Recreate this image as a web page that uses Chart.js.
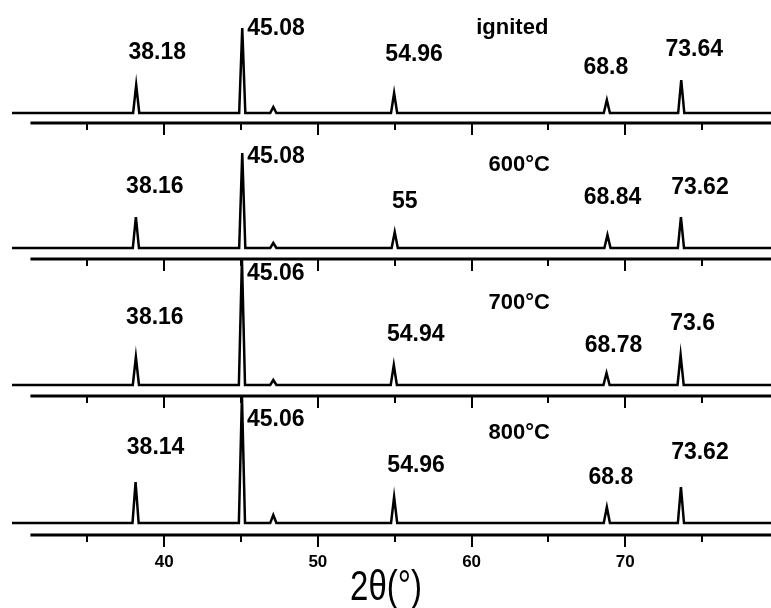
<!DOCTYPE html>
<html>
<head>
<meta charset="utf-8">
<title>XRD patterns</title>
<script src="https://cdn.jsdelivr.net/npm/chart.js@4.4.1/dist/chart.umd.min.js"></script>
<style>
html,body{margin:0;padding:0;background:#fff;}
#wrap{position:relative;width:771px;height:608px;}
</style>
</head>
<body>
<div id="wrap"><canvas id="xrd" width="771" height="608"></canvas></div>
<script>
// ── DATA ──
const sampleNames = ['ignited', '600°C', '700°C', '800°C'];

// reflection positions (2θ, deg) and heights above background (a.u.)
const pos0 = [38.18, 45.08, 47.1, 54.96, 68.8, 73.64];
const hgt0 = [28, 85, 6, 20, 13, 33];
const pos1 = [38.16, 45.08, 47.1, 55, 68.84, 73.62];
const hgt1 = [31, 95, 5, 16, 13, 31];
const pos2 = [38.16, 45.06, 47.1, 54.94, 68.78, 73.6];
const hgt2 = [28, 126, 5, 20, 12, 30];
const pos3 = [38.14, 45.06, 47.1, 54.96, 68.8, 73.62];
const hgt3 = [41, 127, 8, 26, 16, 36];

// which reflections carry a 2θ label (47.1 is left bare)
const labelled = [0, 1, 3, 4, 5];

const xTickLabels = [40, 50, 60, 70];
const xTitle = '2θ(°)';

// ── LAYOUT ──
const xMin = 30.1, xMax = 79.48, axisFrom = 31.3;
const axisLevel = [412, 276, 139, 0];   // each pattern sits on its own axis
const bgLift = [10, 11, 11, 12];       // background line above its axis
const halfWidth = 0.2;

// label offsets from peak: [dx px, dy px from axis, align]
const lblOff = [
  [[21,-70,'center'],[5,-94,'left'],[20,-68,'center'],[-1,-55,'center'],[13,-73,'center']],
  [[19,-72,'center'],[5,-102,'left'],[10,-57,'center'],[5,-61,'center'],[19,-71,'center']],
  [[19,-78,'center'],[5,-122,'left'],[22,-61,'center'],[7,-50,'center'],[12,-72,'center']],
  [[20,-87,'center'],[5,-115,'left'],[22,-69,'center'],[4,-57,'center'],[19,-82,'center']]
];
const nameAt = [62.65, 63.1, 63.1, 63.1];
const nameDy = [-95, -94, -93, -102];

const posAll = [pos0, pos1, pos2, pos3];
const hgtAll = [hgt0, hgt1, hgt2, hgt3];

function pattern(i){
  const base = axisLevel[i] + bgLift[i];
  const pts = [{x:xMin, y:base}];
  posAll[i].forEach((p, k) => {
    pts.push({x:p - halfWidth, y:base});
    pts.push({x:p, y:base + hgtAll[i][k]});
    pts.push({x:p + halfWidth, y:base});
  });
  pts.push({x:xMax, y:base});
  return pts;
}

const FONT = '"Liberation Sans", Arial, Helvetica, sans-serif';

// axes, ticks, peak labels and the axis title
const decor = {
  id: 'decor',
  afterDraw(chart){
    const ctx = chart.ctx, xs = chart.scales.x, ys = chart.scales.y;
    const right = chart.chartArea.right + 2;
    ctx.save();
    ctx.strokeStyle = '#000';
    ctx.fillStyle = '#000';
    axisLevel.forEach((lvl, i) => {
      const y = Math.round(ys.getPixelForValue(lvl));
      ctx.lineWidth = 3;
      ctx.beginPath();
      ctx.moveTo(xs.getPixelForValue(axisFrom), y);
      ctx.lineTo(right, y);
      ctx.stroke();
      ctx.lineWidth = 2;
      xs.ticks.forEach(t => {
        const x = Math.round(xs.getPixelForValue(t.value));
        const len = t.value % 10 === 0 ? 12 : 7;
        ctx.beginPath();
        ctx.moveTo(x, y);
        ctx.lineTo(x, y + len);
        ctx.stroke();
      });

      // peak labels
      ctx.font = 'bold 23px ' + FONT;
      ctx.textBaseline = 'middle';
      labelled.forEach((k, j) => {
        const p = posAll[i][k];
        const o = lblOff[i][j];
        ctx.textAlign = o[2];
        ctx.fillText(String(p), xs.getPixelForValue(p) + o[0], y + o[1]);
      });
      ctx.textAlign = 'center';
      ctx.font = 'bold 22px ' + FONT;
      ctx.fillText(sampleNames[i], xs.getPixelForValue(nameAt[i]), y + nameDy[i]);
    });

    // axis title, slightly tall
    ctx.font = '33px ' + FONT;
    ctx.textAlign = 'center';
    ctx.textBaseline = 'alphabetic';
    ctx.translate(386, 600);
    ctx.scale(1, 1.3);
    ctx.fillText(xTitle, 0, 0);
    ctx.restore();
  }
};

new Chart(document.getElementById('xrd'), {
  type: 'line',
  data: {
    datasets: sampleNames.map((n, i) => ({
      label: n,
      data: pattern(i),
      borderColor: '#000',
      borderWidth: 2.5,
      pointRadius: 0,
      tension: 0,
      fill: false
    }))
  },
  options: {
    responsive: false,
    animation: false,
    layout: {padding: {left: 12, right: 0, top: 0, bottom: 0}},
    plugins: {legend: {display: false}, tooltip: {enabled: false}},
    scales: {
      x: {
        type: 'linear',
        min: xMin, max: xMax,
        border: {display: false},
        grid: {display: false, drawTicks: false},
        afterFit(scale){ scale.height = 73; },
        ticks: {
          stepSize: 5,
          includeBounds: false,
          autoSkip: false,
          maxRotation: 0,
          padding: 17,
          color: '#000',
          font: {family: FONT, size: 17, weight: 'bold'},
          callback: v => xTickLabels.includes(v) ? String(v) : ''
        }
      },
      y: {
        type: 'linear',
        display: false,
        min: 0, max: 535
      }
    }
  },
  plugins: [decor]
});
</script>
</body>
</html>
